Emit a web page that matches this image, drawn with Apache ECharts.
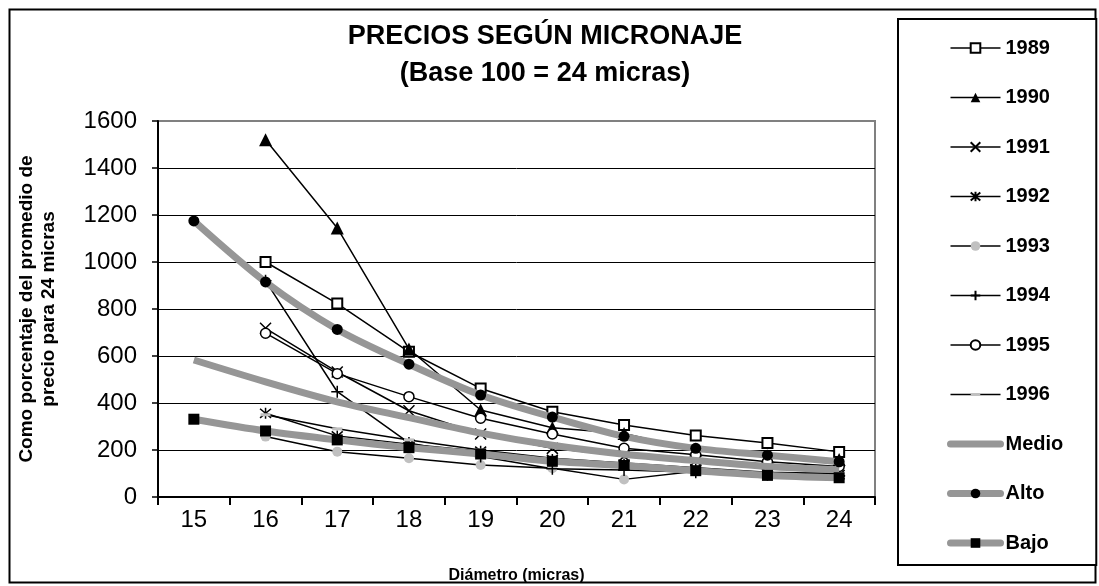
<!DOCTYPE html>
<html>
<head>
<meta charset="utf-8">
<script src="https://cdn.jsdelivr.net/npm/echarts@6/dist/echarts.min.js"></script>
<style>
html,body{margin:0;padding:0;background:#fff;}
#chart{width:1099px;height:586px;}
</style>
</head>
<body>
<div id="chart"></div>
<script>
var categories = ['15','16','17','18','19','20','21','22','23','24'];
var yTicks = [0,200,400,600,800,1000,1200,1400,1600];
var s1989 = [null,1000,823,618,462,363,306,262,230,192];
var s1990 = [null,1520,1145,630,370,295,270,200,170,160];
var s1991 = [null,718,532,367,268,207,174,155,130,110];
var s1992 = [null,356,260,225,195,160,140,120,100,95];
var s1993 = [null,257,193,165,136,122,75,110,100,90];
var s1994 = [null,920,448,230,172,120,115,105,95,90];
var s1995 = [null,697,525,427,335,268,207,180,150,130];
var s1996 = [null,350,290,243,200,165,145,125,105,100];
var medio = [583,490,405,338,272,220,182,155,130,116];
var alto = [1175,915,713,565,434,340,258,207,178,150];
var bajo = [331,281,243,210,183,152,134,112,92,82];
var legendNames = ['1989','1990','1991','1992','1993','1994','1995','1996','Medio','Alto','Bajo'];

var FONT = 'Liberation Sans, Arial, sans-serif';
var GRAY = '#969696';
var LIGHT = '#c0c0c0';

function yearSeries(name, data, symbol, size, itemStyle) {
  return {
    name: name, type: 'line', data: data,
    symbol: symbol, symbolSize: size,
    showSymbol: true, connectNulls: false,
    lineStyle: {color: '#000', width: 1.5},
    itemStyle: itemStyle,
    z: 2
  };
}
function bandSeries(name, data, symbol, size) {
  return {
    name: name, type: 'line', data: data, smooth: 0.3,
    symbol: symbol, symbolSize: size,
    lineStyle: {color: GRAY, width: 7},
    itemStyle: {color: '#000'},
    z: 3
  };
}

var legendData = legendNames.map(function (n) {
  if (n === 'Medio') {
    return {name: n, itemStyle: {opacity: 0}, lineStyle: {color: GRAY, width: 7, cap: 'round'}};
  }
  if (n === 'Alto' || n === 'Bajo') {
    return {name: n, lineStyle: {color: GRAY, width: 7, cap: 'round'}};
  }
  return {name: n, lineStyle: {color: '#000', width: 1.5}};
});

var chart = echarts.init(document.getElementById('chart'));
chart.setOption({
  animation: false,
  backgroundColor: '#fff',
  title: {
    text: 'PRECIOS SEGÚN MICRONAJE\n(Base 100 = 24 micras)',
    left: 540, top: 13, textAlign: 'center',
    textStyle: {fontFamily: FONT, fontSize: 27, fontWeight: 'bold', color: '#000', lineHeight: 37}
  },
  graphic: [{
    type: 'rect', left: 7, top: 7, silent: true,
    shape: {width: 1086, height: 573},
    style: {fill: 'none', stroke: '#000', lineWidth: 2}
  }],
  legend: {
    orient: 'vertical', left: 898, top: 19,
    padding: [19, 33, 12, 49],
    itemWidth: 50, itemHeight: 12, itemGap: 29.5,
    borderColor: '#000', borderWidth: 2, backgroundColor: '#fff',
    textStyle: {fontFamily: FONT, fontSize: 20, fontWeight: 'bold', color: '#000'},
    data: legendData
  },
  grid: {left: 158, right: 224, top: 121, bottom: 89, show: true, borderColor: '#808080', borderWidth: 2, outerBoundsMode: 'none', containLabel: false},
  xAxis: {
    type: 'category', data: categories, boundaryGap: true,
    axisLine: {lineStyle: {color: '#000', width: 2}},
    axisTick: {show: true, interval: 0, length: 8, lineStyle: {color: '#000', width: 2}},
    axisLabel: {fontFamily: FONT, fontSize: 24, color: '#000', margin: 11},
    name: 'Diámetro (micras)', nameLocation: 'middle', nameGap: 71,
    nameTextStyle: {fontFamily: FONT, fontSize: 16, fontWeight: 'bold', color: '#000'}
  },
  yAxis: {
    type: 'value', min: yTicks[0], max: yTicks[yTicks.length-1], interval: 200,
    axisLine: {show: true, lineStyle: {color: '#000', width: 2}},
    axisTick: {show: true, length: 6, lineStyle: {color: '#000', width: 1.5}},
    axisLabel: {fontFamily: FONT, fontSize: 24, color: '#000', margin: 21, formatter: function (v) { return String(v); }},
    splitLine: {show: true, showMaxLine: false, lineStyle: {color: '#000', width: 1}},
    name: 'Como porcentaje del promedio de\nprecio para 24 micras',
    nameLocation: 'middle', nameGap: 98, nameRotate: 90,
    nameTextStyle: {fontFamily: FONT, fontSize: 19, fontWeight: 'bold', color: '#000', lineHeight: 22}
  },
  series: [
    yearSeries('1989', s1989, 'rect', 10, {color: '#fff', borderColor: '#000', borderWidth: 2}),
    yearSeries('1990', s1990, 'triangle', 13, {color: '#000'}),
    yearSeries('1991', s1991, 'path://M0,0L10,10M10,0L0,10', 11, {color: '#000', borderColor: '#000', borderWidth: 1.5}),
    yearSeries('1992', s1992, 'path://M0,0L10,10M10,0L0,10M5,-1L5,11', 11, {color: '#000', borderColor: '#000', borderWidth: 1.5}),
    yearSeries('1993', s1993, 'circle', 10, {color: LIGHT}),
    yearSeries('1994', s1994, 'path://M5,0L5,10M0,5L10,5', 12, {color: '#000', borderColor: '#000', borderWidth: 1.5}),
    yearSeries('1995', s1995, 'circle', 10, {color: '#fff', borderColor: '#000', borderWidth: 1.5}),
    yearSeries('1996', s1996, 'path://M0,0M10,10M0,3.5L10,3.5L10,6.5L0,6.5Z', 10, {color: LIGHT}),
    bandSeries('Medio', medio, 'none', 0),
    bandSeries('Alto', alto, 'circle', 11),
    bandSeries('Bajo', bajo, 'rect', 11)
  ]
});
</script>
</body>
</html>
